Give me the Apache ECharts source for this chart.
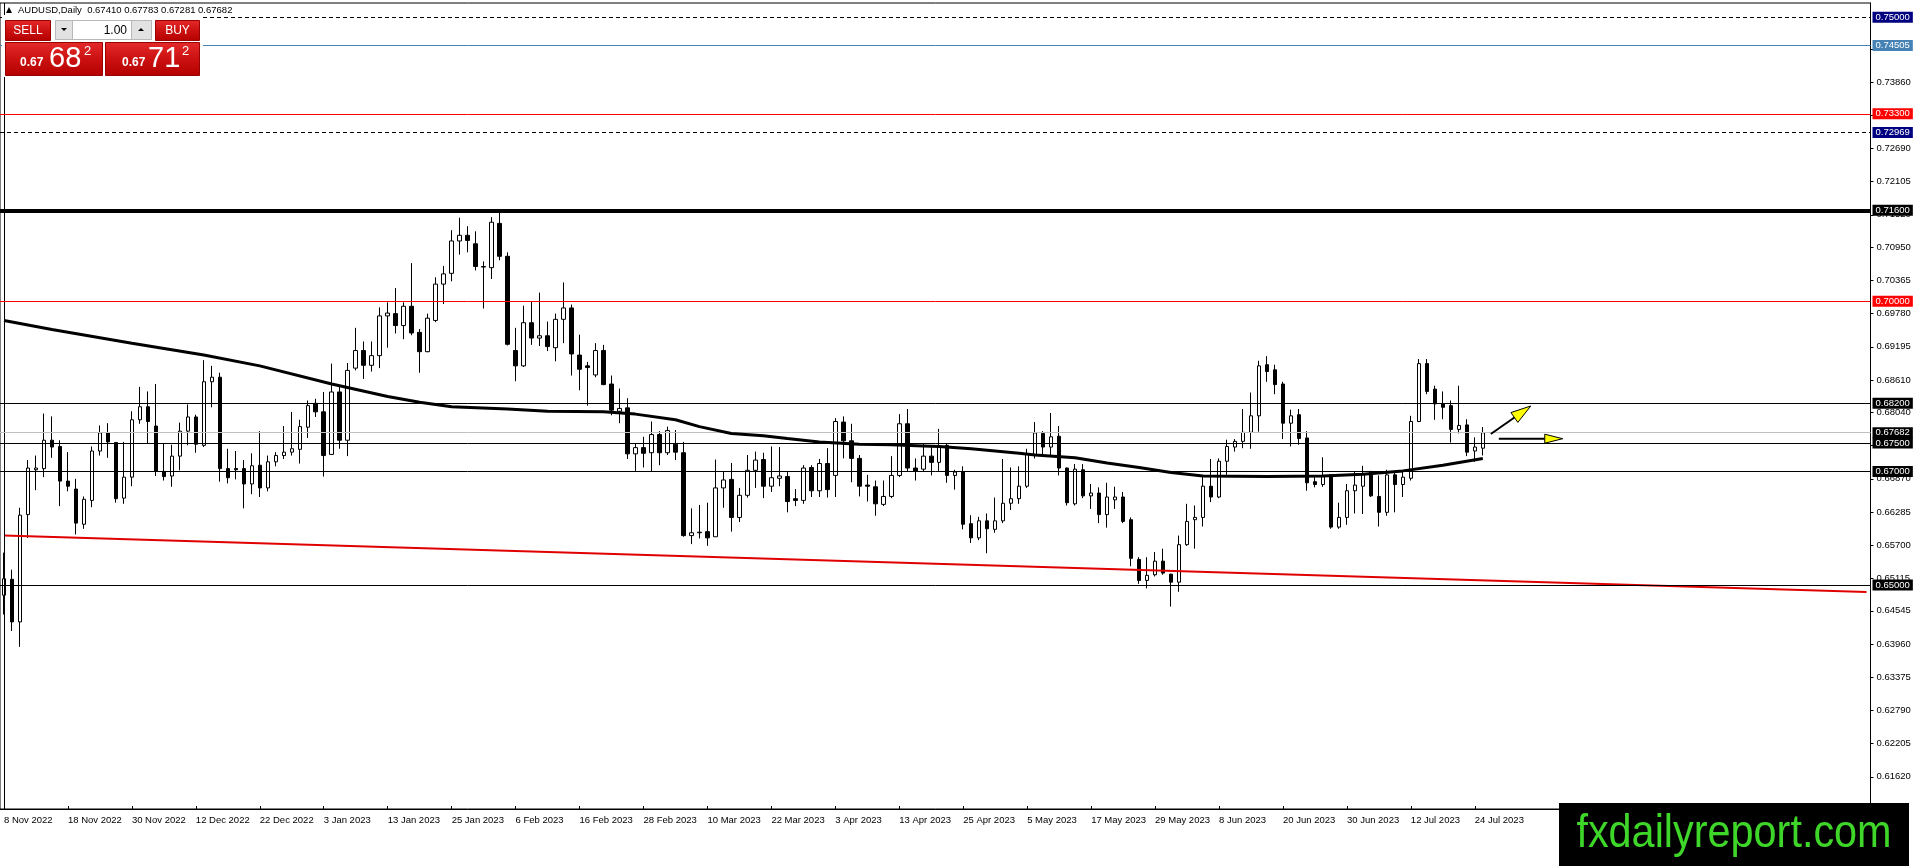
<!DOCTYPE html>
<html style='height: 100%'>
<head>
    <meta charset='utf-8'>
</head>
<body style='height: 100%; margin: 0; background: #fff'>
    <div id='container' style='width: 1916px; height: 866px'></div>
    <script type='text/javascript' src='https://cdn.jsdelivr.net/npm/echarts@6.0.0/dist/echarts.min.js'></script>
    <script type="text/javascript">
// AUDUSD daily bars, 8 Nov 2022 .. 25 Jul 2023
var opens = [0.6482,0.6510,0.6435,0.6624,0.6703,0.6705,0.6755,0.6744,0.6683,0.6669,
 0.6607,0.6649,0.6736,0.6768,0.6751,0.6653,0.6690,0.6791,0.6814,0.6780,
 0.6700,0.6692,0.6727,0.6771,0.6796,0.6746,0.6858,0.6866,0.6705,0.6705,
 0.6705,0.6678,0.6711,0.6671,0.6717,0.6728,0.6734,0.6739,0.6778,0.6820,
 0.6805,0.6730,0.6840,0.6755,0.6882,0.6913,0.6887,0.6904,0.6974,0.6978,
 0.6957,0.6991,0.6945,0.6911,0.6966,0.7030,0.7049,0.7106,0.7116,0.7101,
 0.7061,0.7059,0.7137,0.7079,0.6913,0.6886,0.6962,0.6935,0.6939,0.6918,
 0.6968,0.6988,0.6905,0.6886,0.6870,0.6913,0.6854,0.6806,0.6812,0.6731,
 0.6742,0.6733,0.6765,0.6733,0.6748,0.6733,0.6587,0.6592,0.6594,0.6585,
 0.6671,0.6686,0.6619,0.6658,0.6702,0.6721,0.6674,0.6688,0.6691,0.6652,
 0.6649,0.6707,0.6666,0.6714,0.6693,0.6787,0.6754,0.6723,0.6676,0.6673,
 0.6642,0.6656,0.6693,0.6784,0.6706,0.6704,0.6727,0.6716,0.6746,0.6693,
 0.6700,0.6608,0.6583,0.6613,0.6598,0.6613,0.6644,0.6652,0.6674,0.6730,
 0.6767,0.6743,0.6762,0.6706,0.6643,0.6703,0.6657,0.6662,0.6624,0.6650,
 0.6655,0.6615,0.6545,0.6508,0.6518,0.6542,0.6519,0.6505,0.6571,0.6615,
 0.6619,0.6674,0.6655,0.6718,0.6743,0.6753,0.6769,0.6798,0.6888,0.6879,
 0.6854,0.6785,0.6800,0.6759,0.6682,0.6677,0.6694,0.6602,0.6619,0.6666,
 0.6674,0.6700,0.6656,0.6628,0.6694,0.6677,0.6688,0.6788,0.6890,0.6845,
 0.6819,0.6816,0.6774,0.6782,0.6736,0.67410];
var highs = [0.6557,0.6527,0.6636,0.6720,0.6728,0.6802,0.6797,0.6755,0.6734,0.6687,
 0.6656,0.6744,0.6781,0.6785,0.6752,0.6752,0.6806,0.6849,0.6841,0.6854,
 0.6749,0.6747,0.6786,0.6818,0.6800,0.6896,0.6886,0.6874,0.6740,0.6736,
 0.6720,0.6732,0.6771,0.6728,0.6734,0.6780,0.6805,0.6791,0.6825,0.6828,
 0.6840,0.6890,0.6849,0.6891,0.6953,0.6929,0.6929,0.6989,0.6998,0.7023,
 0.6998,0.7067,0.6951,0.6978,0.7042,0.7062,0.7125,0.7147,0.7132,0.7123,
 0.7070,0.7148,0.7158,0.7086,0.6953,0.6992,0.7000,0.7015,0.6964,0.6978,
 0.7033,0.6994,0.6941,0.6893,0.6926,0.6923,0.6869,0.6846,0.6829,0.6749,
 0.6761,0.6788,0.6771,0.6779,0.6773,0.6752,0.6635,0.6641,0.6645,0.6721,
 0.6700,0.6715,0.6671,0.6729,0.6735,0.6733,0.6744,0.6743,0.6699,0.6669,
 0.6711,0.6711,0.6722,0.6741,0.6794,0.6797,0.6784,0.6729,0.6694,0.6684,
 0.6684,0.6727,0.6801,0.6810,0.6723,0.6750,0.6743,0.6775,0.6750,0.6703,
 0.6709,0.6623,0.6620,0.6626,0.6654,0.6722,0.6707,0.6709,0.6740,0.6787,
 0.6771,0.6803,0.6780,0.6707,0.6713,0.6713,0.6678,0.6672,0.6680,0.6673,
 0.6664,0.6619,0.6549,0.6549,0.6558,0.6564,0.6520,0.6587,0.6643,0.6640,
 0.6691,0.6722,0.6723,0.6756,0.6757,0.6810,0.6839,0.6895,0.6903,0.6888,
 0.6858,0.6809,0.6810,0.6771,0.6693,0.6725,0.6694,0.6645,0.6678,0.6699,
 0.6710,0.6701,0.6693,0.6703,0.6700,0.6701,0.6798,0.6898,0.6898,0.6851,
 0.6841,0.6825,0.6851,0.6792,0.6760,0.67783];
var lows = [0.6448,0.6419,0.6391,0.6583,0.6667,0.6690,0.6724,0.6639,0.6665,0.6589,
 0.6599,0.6637,0.6728,0.6724,0.6645,0.6643,0.6674,0.6784,0.6750,0.6692,
 0.6684,0.6673,0.6702,0.6746,0.6733,0.6743,0.6813,0.6682,0.6679,0.6686,
 0.6635,0.6660,0.6655,0.6665,0.6709,0.6722,0.6728,0.6714,0.6759,0.6796,
 0.6691,0.6729,0.6740,0.6727,0.6878,0.6863,0.6876,0.6882,0.6918,0.6943,
 0.6933,0.6940,0.6874,0.6910,0.6963,0.6995,0.7035,0.7082,0.7086,0.7054,
 0.6987,0.7039,0.7072,0.6922,0.6859,0.6884,0.6923,0.6921,0.6912,0.6894,
 0.6926,0.6869,0.6843,0.6816,0.6866,0.6852,0.6799,0.6785,0.6722,0.6701,
 0.6707,0.6700,0.6711,0.6729,0.6720,0.6585,0.6572,0.6582,0.6569,0.6585,
 0.6636,0.6594,0.6611,0.6654,0.6671,0.6653,0.6664,0.6674,0.6628,0.6639,
 0.6643,0.6655,0.6655,0.6654,0.6655,0.6723,0.6681,0.6656,0.6647,0.6622,
 0.6639,0.6653,0.6690,0.6699,0.6684,0.6699,0.6693,0.6701,0.6680,0.6668,
 0.6598,0.6574,0.6579,0.6556,0.6592,0.6609,0.6632,0.6643,0.6671,0.6723,
 0.6730,0.6727,0.6693,0.6640,0.6640,0.6653,0.6634,0.6609,0.6601,0.6634,
 0.6609,0.6533,0.6502,0.6494,0.6515,0.6518,0.6462,0.6488,0.6569,0.6564,
 0.6603,0.6646,0.6653,0.6694,0.6735,0.6741,0.6740,0.6770,0.6858,0.6836,
 0.6757,0.6744,0.6747,0.6666,0.6672,0.6673,0.6599,0.6599,0.6606,0.6626,
 0.6625,0.6655,0.6603,0.6622,0.6628,0.6655,0.6684,0.6787,0.6836,0.6791,
 0.6792,0.6751,0.6767,0.6727,0.6717,0.67281];
var closes = [0.6511,0.6435,0.6623,0.6706,0.6706,0.6755,0.6743,0.6683,0.6674,0.6609,
 0.6651,0.6736,0.6768,0.6752,0.6652,0.6690,0.6791,0.6814,0.6788,0.6701,
 0.6691,0.6727,0.6771,0.6796,0.6748,0.6858,0.6866,0.6705,0.6689,0.6703,
 0.6678,0.6710,0.6671,0.6717,0.6728,0.6734,0.6740,0.6779,0.6816,0.6805,
 0.6728,0.6840,0.6755,0.6878,0.6913,0.6887,0.6904,0.6974,0.6979,0.6957,
 0.6991,0.6944,0.6911,0.6970,0.7030,0.7048,0.7106,0.7116,0.7107,0.7061,
 0.7060,0.7139,0.7079,0.6924,0.6886,0.6962,0.6935,0.6939,0.6920,0.6968,
 0.6988,0.6907,0.6880,0.6883,0.6913,0.6853,0.6808,0.6811,0.6731,0.6742,
 0.6732,0.6765,0.6733,0.6772,0.6734,0.6587,0.6592,0.6593,0.6583,0.6671,
 0.6685,0.6619,0.6658,0.6702,0.6720,0.6674,0.6689,0.6692,0.6647,0.6649,
 0.6706,0.6666,0.6714,0.6668,0.6788,0.6754,0.6723,0.6674,0.6674,0.6643,
 0.6656,0.6693,0.6784,0.6706,0.6701,0.6727,0.6716,0.6744,0.6693,0.6699,
 0.6607,0.6583,0.6613,0.6599,0.6613,0.6644,0.6652,0.6674,0.6730,0.6768,
 0.6743,0.6761,0.6706,0.6645,0.6704,0.6657,0.6662,0.6624,0.6655,0.6655,
 0.6612,0.6547,0.6508,0.6517,0.6542,0.6521,0.6505,0.6571,0.6612,0.6619,
 0.6674,0.6655,0.6718,0.6744,0.6753,0.6769,0.6798,0.6886,0.6876,0.6853,
 0.6785,0.6798,0.6758,0.6680,0.6677,0.6691,0.6602,0.6619,0.6666,0.6676,
 0.6696,0.6657,0.6628,0.6694,0.6677,0.6690,0.6788,0.6890,0.6841,0.6819,
 0.6813,0.6774,0.6781,0.6734,0.6743,0.67682];

// moving average, read at some bars
var maBars = [0, 6, 16, 25, 32, 41, 48, 52, 56, 63, 68, 75, 79, 84, 87, 91, 95, 98, 102, 107,
 111, 115, 117, 121, 127, 129, 134, 138, 142, 146, 150, 158, 165, 170, 175, 180, 185];
var maValues = [0.6966, 0.6950, 0.6926, 0.6905, 0.6886, 0.6854, 0.6832, 0.6822, 0.6814, 0.6810,
 0.6806, 0.6805, 0.6801, 0.6791, 0.6779, 0.6767, 0.6763, 0.6758, 0.6752, 0.6748,
 0.6747, 0.6745, 0.6744, 0.6740, 0.6732, 0.6729, 0.6724, 0.6715, 0.6707, 0.6698,
 0.6692, 0.6691, 0.6692, 0.6695, 0.6701, 0.6711, 0.6723];

// red trend line ends
var trendBars = [0, 233];
var trendValues = [0.6587, 0.64875];

// horizontal levels
var levelPrices = [0.75000, 0.74505, 0.73300, 0.72969, 0.71600, 0.70000, 0.68200, 0.67682, 0.67500, 0.67000, 0.65000];

// price scale labels
var priceTicks = [0.61620, 0.62205, 0.62790, 0.63375, 0.63960, 0.64545, 0.65115, 0.65700, 0.66285,
 0.66870, 0.67455, 0.68040, 0.68610, 0.69195, 0.69780, 0.70365, 0.70950, 0.71520, 0.72105,
 0.72690, 0.73275, 0.73860, 0.74445];

var TOTAL_SLOTS = 234;
var MONTHS = ['Jan','Feb','Mar','Apr','May','Jun','Jul','Aug','Sep','Oct','Nov','Dec'];
var categories = [];
var d = new Date(Date.UTC(2022, 10, 8));
while (categories.length < opens.length) {
    var wd = d.getUTCDay();
    if (wd !== 0 && wd !== 6) {
        categories.push(d.getUTCDate() + ' ' + MONTHS[d.getUTCMonth()] + ' ' + d.getUTCFullYear());
    }
    d.setUTCDate(d.getUTCDate() + 1);
}
while (categories.length < TOTAL_SLOTS) categories.push('');

var candles = [];
for (var i = 0; i < opens.length; i++) {
    candles.push([opens[i], closes[i], lows[i], highs[i]]);
}
var maData = maBars.map(function (b, k) { return [b, maValues[k]]; });
var trendData = trendBars.map(function (b, k) { return [b, trendValues[k]]; });

// line / label look for each level
var levelStyle = [
    {line: '#000', width: 1, type: [4, 3], bg: '#000080'},
    {line: '#4682b4', width: 1, type: 'solid', bg: '#4682b4'},
    {line: '#ff0000', width: 1, type: 'solid', bg: '#ff0000'},
    {line: '#000', width: 1, type: [4, 3], bg: '#000080'},
    {line: '#000', width: 4, type: 'solid', bg: '#000'},
    {line: '#ff0000', width: 1, type: 'solid', bg: '#ff0000'},
    {line: '#000', width: 1, type: 'solid', bg: '#000'},
    {line: '#c0c0c0', width: 1, type: 'solid', bg: '#000'},
    {line: '#000', width: 1, type: 'solid', bg: '#000'},
    {line: '#000', width: 1, type: 'solid', bg: '#000'},
    {line: '#000', width: 1, type: 'solid', bg: '#000'}
];
var FONT = '"Liberation Sans", Arial, sans-serif';
var levelLines = levelPrices.map(function (p, k) {
    var s = levelStyle[k];
    return {
        yAxis: p,
        lineStyle: {color: s.line, width: s.width, type: s.type},
        label: {
            show: true, position: 'end', distance: 2,
            formatter: p.toFixed(5),
            color: '#fff', backgroundColor: s.bg,
            padding: [1, 3, 0, 3], fontSize: 9.5, lineHeight: 10, fontFamily: FONT
        }
    };
});
levelLines.unshift({xAxis: 0, lineStyle: {color: '#000', width: 1, type: 'solid'}, label: {show: false}});

var dom = document.getElementById("container");
var myChart = echarts.init(dom);
var option = {
    animation: false,
    backgroundColor: '#fff',
    grid: {left: -1.5, top: 3, width: 1872, height: 806, show: true, borderColor: '#000', borderWidth: 1},
    xAxis: {
        type: 'category',
        data: categories,
        boundaryGap: true,
        axisLine: {lineStyle: {color: '#000', width: 1}},
        axisTick: {
            show: true, inside: true, length: 3, alignWithLabel: true,
            interval: function (idx, val) { return idx % 8 === 0 && val !== ''; },
            lineStyle: {color: '#000'}
        },
        axisLabel: {
            interval: function (idx, val) { return idx % 8 === 0 && val !== ''; },
            align: 'left', margin: 6, color: '#000', fontSize: 9.5, fontFamily: FONT
        },
        splitLine: {show: false}
    },
    yAxis: {
        type: 'value',
        position: 'right',
        min: 0.61054,
        max: 0.75252,
        axisLine: {show: true, lineStyle: {color: '#000', width: 1}},
        axisTick: {show: true, length: 3, customValues: priceTicks, lineStyle: {color: '#000'}},
        axisLabel: {
            customValues: priceTicks, margin: 6, color: '#000', fontSize: 9.5, fontFamily: FONT,
            formatter: function (v) { return v.toFixed(5); }
        },
        splitLine: {show: false}
    },
    series: [
        {
            type: 'candlestick',
            data: candles,
            barWidth: 4,
            silent: true,
            z: 2,
            itemStyle: {color: '#fff', color0: '#000', borderColor: '#000', borderColor0: '#000', borderWidth: 1}
        },
        {
            type: 'line',
            data: trendData,
            symbol: 'none',
            silent: true,
            z: 4,
            lineStyle: {color: '#e00000', width: 2},
            markLine: {
                silent: true,
                symbol: ['none', 'none'],
                precision: 5,
                data: levelLines
            }
        },
        {
            type: 'line',
            data: maData,
            symbol: 'none',
            silent: true,
            z: 5,
            lineStyle: {color: '#000', width: 3}
        }
    ]
};
myChart.setOption(option, true);

// chart objects and terminal overlays
function px(bar, price) { return myChart.convertToPixel({gridIndex: 0}, [bar, price]); }
function arrow(a, b, headLen, headHalf) {
    var dx = b[0] - a[0], dy = b[1] - a[1];
    var len = Math.sqrt(dx * dx + dy * dy);
    var ux = dx / len, uy = dy / len;
    var bx = b[0] - ux * headLen, by = b[1] - uy * headLen;
    return [
        {type: 'line', shape: {x1: a[0], y1: a[1], x2: bx, y2: by}, style: {stroke: '#000', lineWidth: 2}, z: 60},
        {type: 'polygon', shape: {points: [[b[0], b[1]], [bx - uy * headHalf, by + ux * headHalf], [bx + uy * headHalf, by - ux * headHalf]]},
         style: {fill: '#ffff00', stroke: '#000', lineWidth: 1}, z: 61}
    ];
}
var redGrad = function () {
    return new echarts.graphic.LinearGradient(0, 0, 0, 1, [
        {offset: 0, color: '#e42a2a'}, {offset: 0.5, color: '#cc1111'}, {offset: 1, color: '#b40000'}
    ]);
};
var g = [];
g = g.concat(arrow(px(186.2, 0.6766), px(190.65, 0.68153), 20, 6));
g = g.concat(arrow(px(186.56, 0.67577), px(195.1, 0.67577), 18, 4.5));
g.push(
    {type: 'polygon', shape: {points: [[6, 13], [12, 13], [9, 7]]}, style: {fill: '#000'}, z: 70},
    {type: 'text', style: {text: 'AUDUSD,Daily  0.67410 0.67783 0.67281 0.67682', x: 18, y: 10.5, fill: '#000',
        font: '9.5px ' + FONT, align: 'left', verticalAlign: 'middle'}, z: 70},
    {type: 'rect', shape: {x: 2, y: 15, width: 201, height: 62}, style: {fill: '#fff'}, z: 70},
    {type: 'rect', shape: {x: 5.5, y: 20.5, width: 45, height: 20}, style: {fill: redGrad(), stroke: '#9a0000', lineWidth: 1}, z: 71},
    {type: 'text', style: {text: 'SELL', x: 28, y: 31, fill: '#fff', font: '12px ' + FONT, align: 'center', verticalAlign: 'middle'}, z: 72},
    {type: 'rect', shape: {x: 55.5, y: 20.5, width: 96, height: 19}, style: {fill: '#fff', stroke: '#b8b8b8', lineWidth: 1}, z: 71},
    {type: 'rect', shape: {x: 55.5, y: 20.5, width: 17, height: 19}, style: {fill: '#e2e2e2', stroke: '#b8b8b8', lineWidth: 1}, z: 72},
    {type: 'polygon', shape: {points: [[61, 28], [67, 28], [64, 31]]}, style: {fill: '#000'}, z: 73},
    {type: 'rect', shape: {x: 131.5, y: 20.5, width: 20, height: 19}, style: {fill: '#e2e2e2', stroke: '#b8b8b8', lineWidth: 1}, z: 72},
    {type: 'polygon', shape: {points: [[138, 31], [144, 31], [141, 28]]}, style: {fill: '#000'}, z: 73},
    {type: 'text', style: {text: '1.00', x: 127, y: 30.5, fill: '#000', font: '12px ' + FONT, align: 'right', verticalAlign: 'middle'}, z: 73},
    {type: 'rect', shape: {x: 155.5, y: 20.5, width: 44, height: 20}, style: {fill: redGrad(), stroke: '#9a0000', lineWidth: 1}, z: 71},
    {type: 'text', style: {text: 'BUY', x: 177.5, y: 31, fill: '#fff', font: '12px ' + FONT, align: 'center', verticalAlign: 'middle'}, z: 72},
    {type: 'rect', shape: {x: 5.5, y: 42.5, width: 97, height: 33}, style: {fill: redGrad(), stroke: '#9a0000', lineWidth: 1}, z: 71},
    {type: 'rect', shape: {x: 105.5, y: 42.5, width: 94, height: 33}, style: {fill: redGrad(), stroke: '#9a0000', lineWidth: 1}, z: 71},
    {type: 'text', style: {text: '0.67', x: 20, y: 69, fill: '#fff', font: 'bold 12px ' + FONT, align: 'left', verticalAlign: 'bottom'}, z: 72},
    {type: 'text', style: {text: '68', x: 49, y: 73, fill: '#fff', font: '29px ' + FONT, align: 'left', verticalAlign: 'bottom'}, z: 72},
    {type: 'text', style: {text: '2', x: 84, y: 45, fill: '#fff', font: '13px ' + FONT, align: 'left', verticalAlign: 'top'}, z: 72},
    {type: 'text', style: {text: '0.67', x: 122, y: 69, fill: '#fff', font: 'bold 12px ' + FONT, align: 'left', verticalAlign: 'bottom'}, z: 72},
    {type: 'text', style: {text: '71', x: 148, y: 73, fill: '#fff', font: '29px ' + FONT, align: 'left', verticalAlign: 'bottom'}, z: 72},
    {type: 'text', style: {text: '2', x: 182, y: 45, fill: '#fff', font: '13px ' + FONT, align: 'left', verticalAlign: 'top'}, z: 72},
    {type: 'rect', shape: {x: 1559, y: 803, width: 350, height: 63}, style: {fill: '#000'}, z: 80},
    {type: 'text', x: 1734, y: 834, scaleX: 0.9, scaleY: 1,
        style: {text: 'fxdailyreport.com', x: 0, y: 0, fill: '#3fd62a',
        font: '46px "Liberation Sans", Arial, sans-serif', align: 'center', verticalAlign: 'middle'}, z: 81}
);
myChart.setOption({graphic: {elements: g}});
    </script>
</body>
</html>
